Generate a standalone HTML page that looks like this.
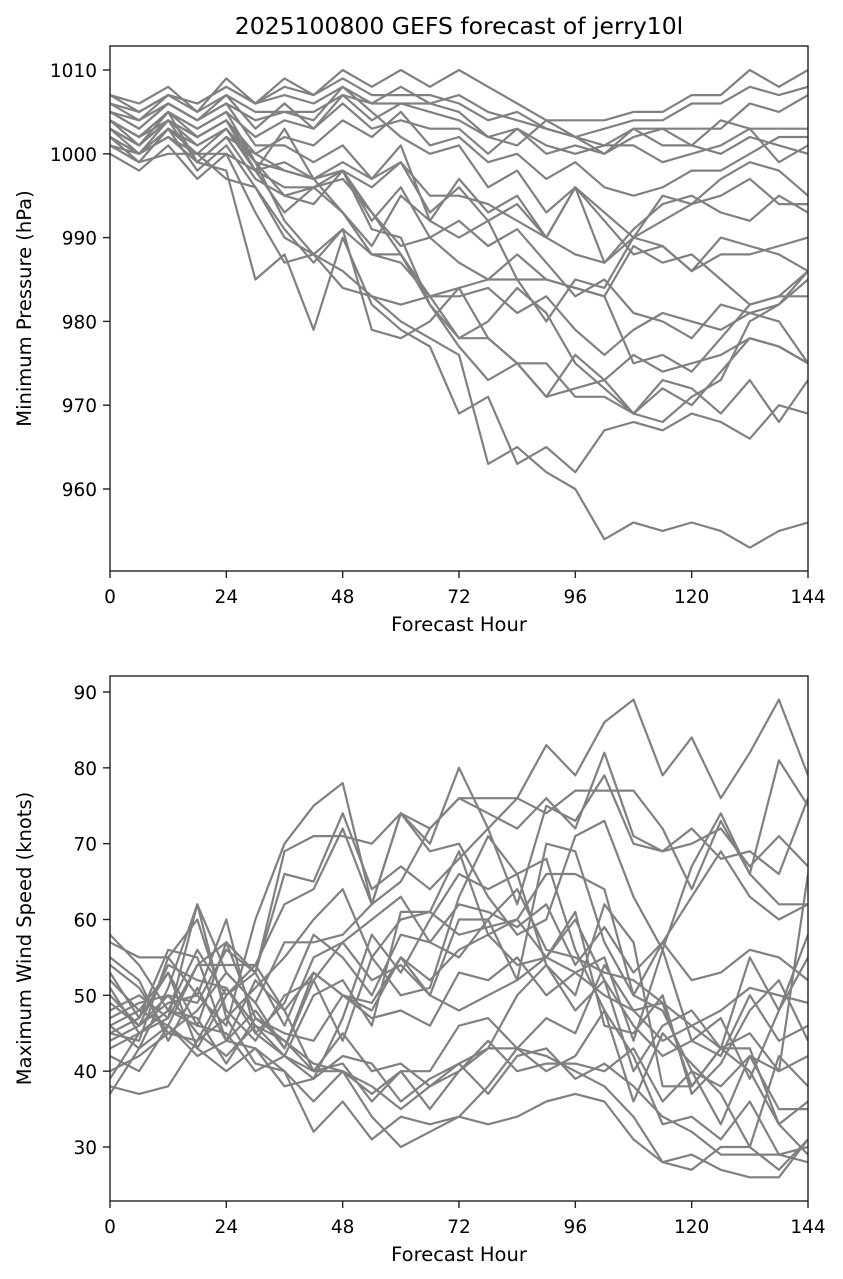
<!DOCTYPE html>
<html><head><meta charset="utf-8">
<style>
body{margin:0;background:#fff;}
svg{display:block;font-family:"DejaVu Sans","Liberation Sans",sans-serif;}
</style></head>
<body>
<svg id="chart" width="843" height="1279" viewBox="0 0 843 1279">
<rect width="843" height="1279" fill="#fff"/>
<text x="459" y="34" font-size="23.5" text-anchor="middle">2025100800 GEFS forecast of jerry10l</text>
</svg>
<script>
const hours = [0,6,12,18,24,30,36,42,48,54,60,66,72,78,84,90,96,102,108,114,120,126,132,138,144];
const xTicks = [0,24,48,72,96,120,144];
const pressureTicks = [960,970,980,990,1000,1010];
const windTicks = [30,40,50,60,70,80,90];
const pressureSeries = [
[1001,999,1003,1000,997,996,990,988,984,983,980,978,976,963,965,962,960,954,956,955,956,955,953,955,956],
[1003,1001,1004,999,998,985,988,979,990,982,979,977,969,971,963,965,962,967,968,967,969,968,966,970,969],
[1004,1002,1005,1003,1005,999,992,988,991,988,987,983,978,978,975,975,971,971,969,973,972,969,973,968,973],
[1005,1003,1006,1004,1006,1004,1005,1004,1008,1005,1002,1000,1001,996,998,993,996,992,988,989,986,990,989,988,986],
[1007,1006,1008,1005,1009,1006,1009,1007,1010,1008,1010,1008,1010,1008,1006,1004,1004,1004,1005,1005,1007,1007,1010,1008,1010],
[1006,1005,1007,1006,1008,1006,1008,1007,1009,1007,1007,1007,1006,1004,1005,1003,1002,1003,1004,1004,1006,1006,1008,1007,1008],
[1005,1004,1006,1004,1007,1003,1006,1003,1007,1006,1006,1006,1005,1002,1003,1000,1001,1000,1002,1003,1003,1003,1006,1005,1007],
[1004,1002,1005,1003,1005,1002,1004,1003,1006,1003,1004,1003,1003,1000,1003,1001,1000,1001,1001,999,1000,1001,1003,1003,1003],
[1003,1001,1004,1002,1004,1000,1002,1001,1004,1002,1005,1001,1002,999,1000,997,999,996,995,996,998,998,1000,1002,1002],
[1002,1000,1003,1001,1003,998,999,997,999,997,999,993,996,992,994,990,996,987,991,994,995,993,992,995,993],
[1001,1000,1002,999,1002,997,995,996,997,993,989,990,987,985,988,985,984,983,989,987,988,985,982,983,986],
[1000,998,1001,997,1000,993,987,988,986,983,982,983,983,984,981,983,979,976,979,981,980,979,981,980,975],
[1002,999,1003,998,1001,996,991,987,991,979,978,980,984,978,975,971,972,973,976,974,975,976,978,977,975],
[1003,1001,1005,1002,1004,998,996,996,993,988,988,983,984,985,985,985,984,983,975,976,974,978,982,983,983],
[1004,1002,1004,1002,1004,999,998,997,998,992,996,990,992,989,991,987,983,985,981,980,978,982,981,982,986],
[1005,1003,1006,1004,1006,1001,1001,999,1001,997,1001,992,997,993,995,990,996,993,990,989,986,988,988,989,990],
[1006,1004,1007,1005,1007,1005,1005,1005,1007,1004,1006,1005,1004,1002,1001,1004,1002,1001,1003,1001,1001,1004,1003,999,1001],
[1007,1005,1007,1006,1008,1006,1007,1006,1008,1006,1008,1006,1007,1005,1004,1003,1002,1000,1003,1003,1001,1000,1002,1001,1000],
[1002,1000,1002,1000,1003,998,1003,997,998,996,999,995,995,994,992,990,988,987,990,992,994,997,999,998,995],
[1001,999,1000,1000,1000,998,993,996,998,991,990,982,978,980,984,981,975,972,969,968,971,973,980,982,985],
[1003,1000,1004,1001,1003,999,995,994,998,993,988,982,977,973,975,971,976,973,969,972,970,974,978,977,975],
[1004,1001,1005,999,1002,1000,998,997,993,989,995,992,990,992,985,980,985,984,990,995,994,995,997,994,994]
];
const windSeries = [
[58,54,48,56,50,54,62,64,72,62,74,70,80,72,76,83,79,86,89,79,84,76,82,89,79],
[57,55,55,50,46,60,70,75,78,62,65,72,76,76,76,74,77,77,77,72,64,73,66,81,75],
[52,48,53,46,57,53,69,71,71,70,74,72,76,74,72,76,72,82,71,69,70,72,67,71,67],
[50,46,50,49,56,53,66,65,74,64,67,64,68,72,62,75,73,79,70,69,72,68,69,66,76],
[48,50,47,62,53,49,57,57,58,62,74,69,70,63,58,60,71,73,63,56,67,74,66,62,62],
[46,43,51,62,47,51,55,60,64,55,60,61,69,58,60,66,66,64,50,57,63,69,63,60,62],
[45,44,55,60,48,44,50,52,57,60,63,57,62,61,59,62,54,59,53,57,52,53,56,55,52],
[44,46,49,50,60,45,49,58,55,50,58,57,55,60,64,56,55,53,52,49,46,48,51,50,49],
[43,45,47,54,54,54,48,53,50,47,48,46,53,52,55,50,53,55,44,56,44,42,50,44,46],
[42,40,46,54,57,47,45,44,50,48,55,50,48,50,52,55,53,50,48,49,38,43,45,40,42],
[40,42,45,44,51,45,42,40,41,36,40,40,46,47,43,47,45,54,48,44,46,43,43,33,36],
[39,45,48,46,45,40,42,39,42,41,36,39,41,37,42,43,39,41,38,34,32,29,29,29,30],
[38,37,38,44,47,41,40,36,40,34,30,32,34,38,43,42,40,38,34,28,29,27,26,26,31],
[37,43,46,42,44,43,40,32,36,31,34,33,34,33,34,36,37,36,31,28,27,30,30,27,31],
[51,45,48,47,41,47,44,40,40,38,35,38,40,44,40,41,41,40,43,36,40,33,42,35,35],
[55,52,44,51,44,52,48,40,45,40,41,38,41,43,43,40,42,48,42,33,34,31,36,29,28],
[47,49,50,45,42,46,44,41,40,37,40,35,40,43,50,54,48,52,40,46,48,43,40,33,29],
[53,47,56,55,44,48,43,53,50,49,55,52,56,58,54,55,60,52,46,42,44,47,39,48,58],
[49,46,54,52,51,46,42,50,52,46,61,61,58,59,60,55,61,46,45,50,37,41,48,52,44],
[54,51,45,48,53,49,43,52,44,55,50,51,63,71,66,54,50,62,57,38,38,43,55,48,55],
[46,48,46,43,40,43,38,39,47,58,53,60,66,64,66,68,56,48,36,45,41,37,30,42,38],
[45,47,53,43,50,53,46,55,57,52,54,50,60,60,52,70,69,57,50,48,40,38,42,40,66]
];
const NS='http://www.w3.org/2000/svg';
const svg=document.getElementById('chart');
function mk(tag,attrs,parent){const e=document.createElementNS(NS,tag);for(const k in attrs)e.setAttribute(k,attrs[k]);(parent||svg).appendChild(e);return e;}
function panel(cfg){
  const L=110,R=808,T=cfg.top,B=cfg.bottom;
  const xs=h=>L+(h-0)/144*(R-L);
  const ys=v=>cfg.py0+(v-cfg.v0)*(cfg.py1-cfg.py0)/(cfg.v1-cfg.v0);
  const g=mk('g',{});
  
  
  const clip=mk('clipPath',{id:cfg.name+'-clip'},g);
  mk('rect',{x:L,y:T,width:R-L,height:B-T},clip);
  const lines=mk('g',{'clip-path':'url(#'+cfg.name+'-clip)'},g);
  cfg.series.forEach((s,i)=>{
    const p=mk('polyline',{points:s.map((v,j)=>xs(hours[j]).toFixed(1)+','+ys(v).toFixed(1)).join(' '),fill:'none',stroke:'#808080','stroke-width':2.2,'stroke-linejoin':'round'},lines);
    
    
  });
  const fr=mk('rect',{x:L,y:T,width:R-L,height:B-T,fill:'none',stroke:'#222','stroke-width':1.4},g);
  
  
  xTicks.forEach(t=>{
    const x=xs(t);
    mk('line',{x1:x,x2:x,y1:B,y2:B+7,stroke:'#222','stroke-width':1.4},g);
    const tx=mk('text',{x:x,y:B+32,'font-size':18.5,'text-anchor':'middle'},g);
    tx.textContent=t;
    
    
  });
  cfg.ticks.forEach(t=>{
    const y=ys(t);
    mk('line',{x1:L-7,x2:L,y1:y,y2:y,stroke:'#222','stroke-width':1.4},g);
    const tx=mk('text',{x:L-13,y:y+7,'font-size':18.5,'text-anchor':'end'},g);
    tx.textContent=t;
    
    
  });
  const xl=mk('text',{x:(L+R)/2,y:B+60,'font-size':19.5,'text-anchor':'middle'},g);
  xl.textContent='Forecast Hour';
  
  
  const yl=mk('text',{x:0,y:0,'font-size':19.5,'text-anchor':'middle',transform:'translate(31,'+((T+B)/2)+') rotate(-90)'},g);
  yl.textContent=cfg.ylabel;
  
  
}
panel({name:'pressure-panel',top:46,bottom:571,v0:1010,py0:70,v1:960,py1:489,ticks:pressureTicks,series:pressureSeries,ylabel:'Minimum Pressure (hPa)'});
panel({name:'wind-panel',top:676,bottom:1201,v0:90,py0:692,v1:30,py1:1147,ticks:windTicks,series:windSeries,ylabel:'Maximum Wind Speed (knots)'});
</script>
</body></html>
